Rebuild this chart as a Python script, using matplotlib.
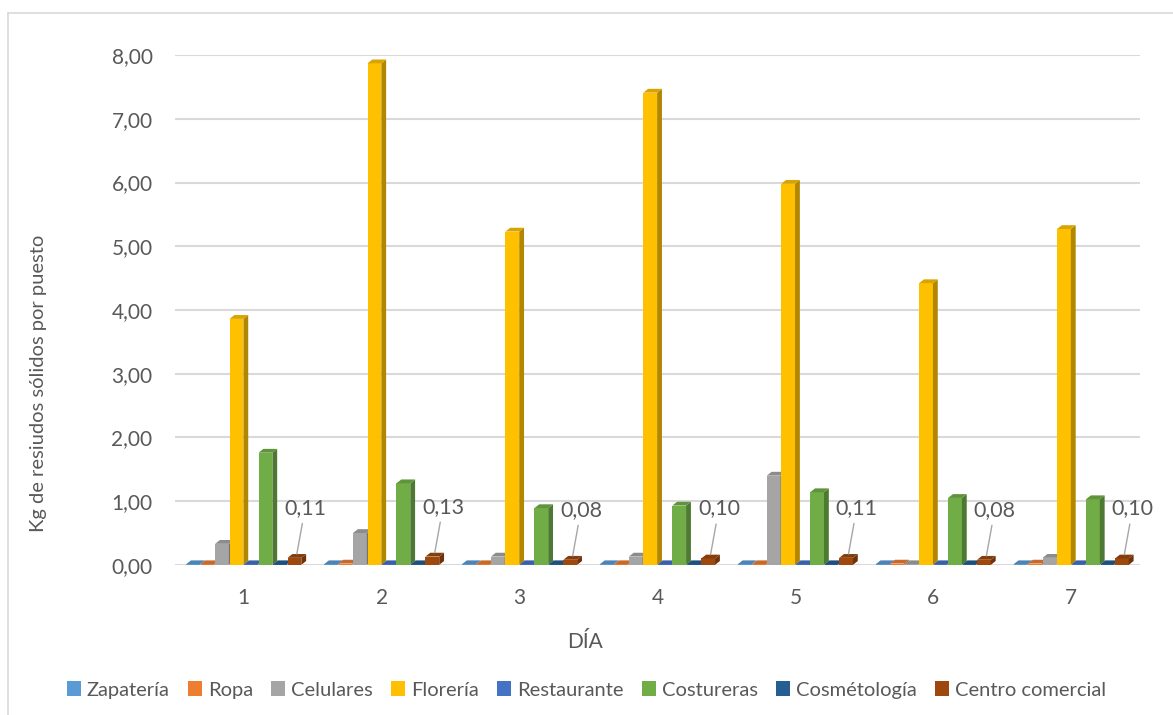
import numpy as np
import matplotlib.pyplot as plt
from matplotlib.patches import Polygon
from matplotlib.lines import Line2D
from matplotlib.colors import to_rgb

plt.rcParams['font.family'] = ['Lato', 'DejaVu Sans']

dias = [1, 2, 3, 4, 5, 6, 7]
series = ["Zapatería", "Ropa", "Celulares", "Florería", "Restaurante",
          "Costureras", "Cosmétología", "Centro comercial"]
zapateria = [0.01, 0.01, 0.01, 0.01, 0.01, 0.01, 0.01]
ropa = [0.01, 0.02, 0.01, 0.01, 0.01, 0.02, 0.02]
celulares = [0.33, 0.50, 0.13, 0.13, 1.40, 0.01, 0.11]
floreria = [3.86, 7.87, 5.23, 7.41, 5.98, 4.42, 5.27]
restaurante = [0.01, 0.01, 0.01, 0.01, 0.01, 0.01, 0.01]
costureras = [1.76, 1.28, 0.89, 0.93, 1.14, 1.05, 1.03]
cosmetologia = [0.01, 0.01, 0.01, 0.01, 0.01, 0.01, 0.01]
centro = [0.11, 0.13, 0.08, 0.10, 0.11, 0.08, 0.10]

valores = [zapateria, ropa, celulares, floreria, restaurante,
           costureras, cosmetologia, centro]
colores = ["#5B9BD5", "#ED7D31", "#A5A5A5", "#FFC000", "#4472C4",
           "#70AD47", "#255E91", "#9E480E"]

gris = "#595959"
fig = plt.figure(figsize=(11.73, 7.15), dpi=100)
ax = fig.add_axes([0.149, 0.21, 0.823, 0.713])

w = 0.1
paso = 0.105
dx = 0.035
dy = 0.06


def oscuro(c, f):
    return tuple(np.array(to_rgb(c)) * f)


for i, (vals, col) in enumerate(zip(valores, colores)):
    xs = np.array(dias) + (i - 3.5) * paso
    ax.bar(xs, vals, w, color=col, edgecolor='none', zorder=3, label=series[i])
    for x, h in zip(xs, vals):
        lado = Polygon([(x + w / 2, 0), (x + w / 2 + dx, dy),
                        (x + w / 2 + dx, h + dy), (x + w / 2, h)],
                       closed=True, facecolor=oscuro(col, 0.7),
                       edgecolor='none', zorder=3)
        tapa = Polygon([(x - w / 2, h), (x + w / 2, h),
                        (x + w / 2 + dx, h + dy), (x - w / 2 + dx, h + dy)],
                       closed=True, facecolor=oscuro(col, 0.85),
                       edgecolor='none', zorder=3)
        ax.add_patch(lado)
        ax.add_patch(tapa)

# etiquetas de Centro comercial
xs_cc = np.array(dias) + 3.5 * paso
for x, h in zip(xs_cc, centro):
    ax.annotate(f"{h:.2f}".replace('.', ','), xy=(x + dx / 2, h + dy),
                xytext=(6, 26), textcoords='offset points',
                ha='center', va='bottom', fontsize=15.5, color=gris,
                arrowprops=dict(arrowstyle='-', color='#a6a6a6', lw=1,
                                shrinkA=2, shrinkB=0), zorder=4)

ax.set_xlim(0.5, 7.5)
ax.set_ylim(0, 8)
ax.set_yticks(np.arange(0, 9, 1))
ax.set_yticklabels([f"{v:.2f}".replace('.', ',') for v in range(9)])
ax.set_xticks(dias)
ax.set_xticklabels([str(d) for d in dias])
ax.tick_params(length=0, labelsize=15, colors=gris)
ax.tick_params(axis='x', pad=17)
ax.tick_params(axis='y', pad=16)
ax.grid(axis='y', color='#d9d9d9', lw=1.5, zorder=0)
for s in ax.spines.values():
    s.set_visible(False)

ax.set_ylabel("Kg de resiudos sólidos por puesto", fontsize=14.5, color=gris)
ax.yaxis.set_label_coords(-0.132, 0.355)
ax.set_xlabel("DÍA", fontsize=15, color=gris)
ax.xaxis.set_label_coords(0.425, -0.131)

handles, labels = ax.get_legend_handles_labels()
fig.legend(handles, labels, loc='center', bbox_to_anchor=(0.5, 0.035),
           ncol=8, frameon=False, fontsize=14.5, handlelength=0.7,
           handleheight=0.7, handletextpad=0.3, columnspacing=0.9,
           labelcolor=gris)

# borde del gráfico (solo arriba e izquierda visibles)
fig.add_artist(Line2D([0.0068, 1.0], [0.982, 0.982], transform=fig.transFigure,
                      color='#d9d9d9', lw=1.2))
fig.add_artist(Line2D([0.0068, 0.0068], [0.0, 0.982], transform=fig.transFigure,
                      color='#d9d9d9', lw=1.2))

fig.savefig("out.png", dpi=100)
